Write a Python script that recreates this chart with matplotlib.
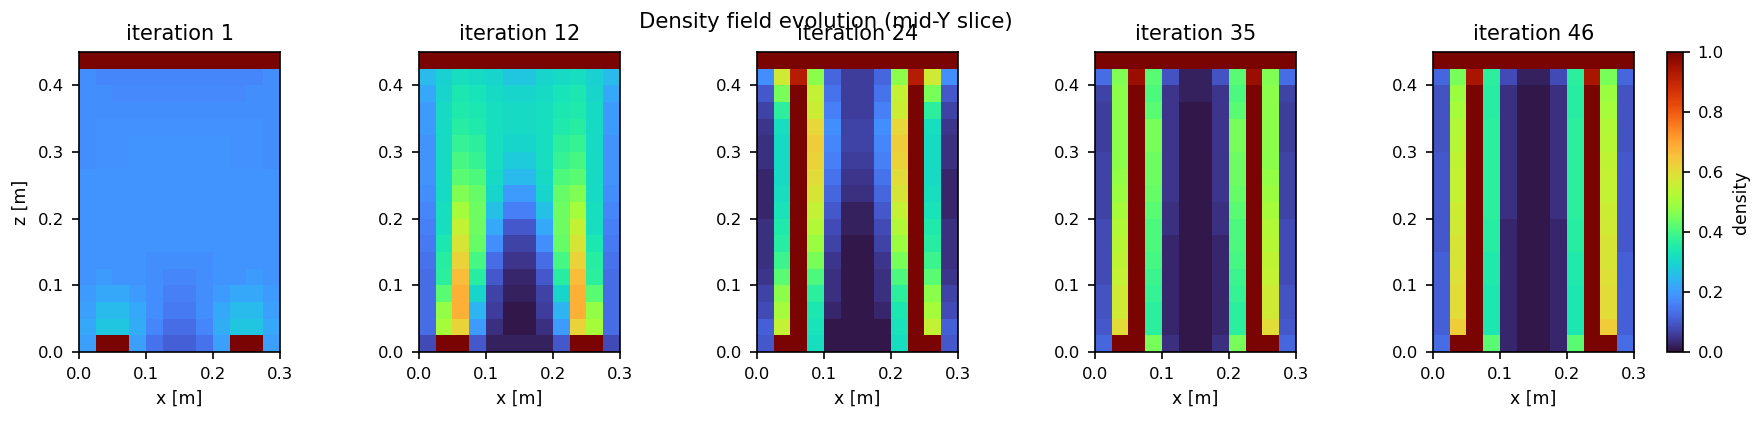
import numpy as np
import matplotlib
matplotlib.use("Agg")
import matplotlib.pyplot as plt

# Half-rows (left 6 columns, mirrored) from bottom (z=0) upward; top lid row is solid 1.0
iterations = [1, 12, 24, 35, 46]

it1_half = [
    [0.21, 1.00, 1.00, 0.21, 0.14, 0.11],
    [0.22, 0.27, 0.27, 0.23, 0.17, 0.13],
    [0.21, 0.25, 0.25, 0.22, 0.18, 0.15],
    [0.20, 0.22, 0.22, 0.20, 0.18, 0.16],
    [0.19, 0.20, 0.19, 0.19, 0.18, 0.17],
    [0.19, 0.19, 0.19, 0.19, 0.18, 0.18],
    [0.19, 0.19, 0.19, 0.19, 0.19, 0.19],
    [0.19, 0.19, 0.19, 0.19, 0.19, 0.19],
    [0.19, 0.19, 0.19, 0.19, 0.19, 0.19],
    [0.19, 0.19, 0.19, 0.19, 0.19, 0.19],
    [0.19, 0.19, 0.19, 0.19, 0.19, 0.19],
    [0.18, 0.185, 0.185, 0.19, 0.19, 0.19],
    [0.18, 0.185, 0.185, 0.19, 0.19, 0.19],
    [0.18, 0.185, 0.185, 0.185, 0.185, 0.185],
    [0.18, 0.18, 0.18, 0.18, 0.18, 0.18],
    [0.18, 0.18, 0.175, 0.175, 0.175, 0.175],
    [0.18, 0.17, 0.17, 0.17, 0.17, 0.17],
]

it12_half = [
    [0.08, 1.00, 1.00, 0.10, 0.02, 0.02],
    [0.13, 0.50, 0.62, 0.20, 0.04, 0.01],
    [0.13, 0.48, 0.68, 0.24, 0.06, 0.01],
    [0.13, 0.42, 0.68, 0.30, 0.07, 0.02],
    [0.13, 0.37, 0.66, 0.36, 0.10, 0.03],
    [0.14, 0.36, 0.62, 0.40, 0.13, 0.05],
    [0.15, 0.34, 0.58, 0.43, 0.18, 0.07],
    [0.16, 0.32, 0.55, 0.44, 0.22, 0.10],
    [0.17, 0.32, 0.50, 0.44, 0.26, 0.16],
    [0.18, 0.31, 0.46, 0.43, 0.30, 0.20],
    [0.19, 0.31, 0.42, 0.41, 0.31, 0.25],
    [0.19, 0.31, 0.40, 0.38, 0.32, 0.28],
    [0.19, 0.31, 0.38, 0.37, 0.32, 0.30],
    [0.20, 0.31, 0.36, 0.35, 0.32, 0.31],
    [0.20, 0.31, 0.35, 0.34, 0.32, 0.31],
    [0.22, 0.30, 0.34, 0.33, 0.31, 0.30],
    [0.25, 0.29, 0.32, 0.31, 0.30, 0.27],
]

it24_half = [
    [0.10, 1.00, 1.00, 0.32, 0.01, 0.01],
    [0.11, 0.55, 1.00, 0.33, 0.01, 0.01],
    [0.08, 0.50, 1.00, 0.34, 0.03, 0.01],
    [0.07, 0.47, 1.00, 0.37, 0.04, 0.01],
    [0.05, 0.42, 1.00, 0.41, 0.04, 0.01],
    [0.04, 0.39, 1.00, 0.45, 0.05, 0.01],
    [0.04, 0.36, 1.00, 0.49, 0.07, 0.01],
    [0.04, 0.35, 1.00, 0.52, 0.08, 0.02],
    [0.03, 0.33, 1.00, 0.55, 0.10, 0.02],
    [0.03, 0.32, 1.00, 0.58, 0.12, 0.04],
    [0.03, 0.31, 1.00, 0.60, 0.14, 0.05],
    [0.04, 0.31, 1.00, 0.62, 0.16, 0.06],
    [0.04, 0.31, 1.00, 0.63, 0.17, 0.07],
    [0.05, 0.32, 1.00, 0.61, 0.18, 0.07],
    [0.07, 0.37, 1.00, 0.56, 0.16, 0.06],
    [0.10, 0.45, 1.00, 0.55, 0.14, 0.06],
    [0.18, 0.57, 0.92, 0.47, 0.12, 0.06],
]

it35_half = [
    [0.12, 1.00, 1.00, 0.45, 0.04, 0.01],
    [0.10, 0.60, 1.00, 0.37, 0.03, 0.01],
    [0.09, 0.57, 1.00, 0.37, 0.03, 0.01],
    [0.09, 0.57, 1.00, 0.38, 0.03, 0.01],
    [0.08, 0.55, 1.00, 0.39, 0.03, 0.01],
    [0.08, 0.54, 1.00, 0.40, 0.03, 0.01],
    [0.08, 0.53, 1.00, 0.41, 0.03, 0.01],
    [0.08, 0.52, 1.00, 0.41, 0.04, 0.01],
    [0.07, 0.50, 1.00, 0.42, 0.04, 0.01],
    [0.07, 0.49, 1.00, 0.43, 0.05, 0.01],
    [0.07, 0.48, 1.00, 0.44, 0.05, 0.01],
    [0.07, 0.47, 1.00, 0.44, 0.05, 0.01],
    [0.06, 0.47, 1.00, 0.45, 0.05, 0.01],
    [0.06, 0.47, 1.00, 0.45, 0.05, 0.01],
    [0.06, 0.47, 1.00, 0.42, 0.05, 0.01],
    [0.07, 0.47, 1.00, 0.41, 0.05, 0.02],
    [0.13, 0.46, 0.96, 0.42, 0.09, 0.02],
]

it46_half = [
    [0.13, 1.00, 1.00, 0.42, 0.03, 0.01],
    [0.11, 0.63, 1.00, 0.34, 0.03, 0.01],
    [0.11, 0.60, 1.00, 0.34, 0.03, 0.01],
    [0.11, 0.60, 1.00, 0.34, 0.03, 0.01],
    [0.11, 0.59, 1.00, 0.35, 0.03, 0.01],
    [0.11, 0.58, 1.00, 0.35, 0.03, 0.01],
    [0.10, 0.58, 1.00, 0.36, 0.03, 0.01],
    [0.10, 0.57, 1.00, 0.36, 0.03, 0.01],
    [0.10, 0.56, 1.00, 0.37, 0.04, 0.01],
    [0.10, 0.55, 1.00, 0.37, 0.04, 0.01],
    [0.10, 0.55, 1.00, 0.37, 0.04, 0.01],
    [0.10, 0.54, 1.00, 0.37, 0.04, 0.01],
    [0.09, 0.53, 1.00, 0.37, 0.04, 0.01],
    [0.09, 0.52, 1.00, 0.37, 0.04, 0.01],
    [0.09, 0.50, 1.00, 0.36, 0.04, 0.01],
    [0.09, 0.49, 1.00, 0.36, 0.04, 0.01],
    [0.12, 0.45, 0.94, 0.37, 0.08, 0.02],
]

halves = [it1_half, it12_half, it24_half, it35_half, it46_half]
x_ticks = [0.0, 0.1, 0.2, 0.3]
z_ticks = [0.0, 0.1, 0.2, 0.3, 0.4]
cb_ticks = [0.0, 0.2, 0.4, 0.6, 0.8, 1.0]
Lx, Lz = 0.3, 0.45


def full_field(half):
    h = np.array(half)
    body = np.hstack([h, h[:, ::-1]])
    lid = np.ones((1, body.shape[1]))
    return np.vstack([body, lid])


plt.rcParams["xtick.labelsize"] = 7.9
plt.rcParams["ytick.labelsize"] = 7.9
plt.rcParams["axes.labelsize"] = 8.3

DPI = 150
W, H = 1761, 421
fig = plt.figure(figsize=(W / DPI, H / DPI), dpi=DPI)

lefts = [79, 419, 757, 1095, 1433]
ax_w, ax_top, ax_bot = 201, 52, 352
im = None
for i, (it, half) in enumerate(zip(iterations, halves)):
    ax = fig.add_axes([lefts[i] / W, 1 - ax_bot / H, ax_w / W, (ax_bot - ax_top) / H])
    im = ax.imshow(full_field(half), origin="lower", extent=[0, Lx, 0, Lz],
                   cmap="turbo", vmin=0, vmax=1, aspect="auto", interpolation="nearest")
    ax.set_xticks(x_ticks)
    ax.set_yticks(z_ticks)
    ax.set_xlabel("x [m]")
    if i == 0:
        ax.set_ylabel("z [m]")
    ax.set_title(f"iteration {it}", fontsize=10)

cax = fig.add_axes([1667 / W, 1 - 352 / H, 16 / W, 300 / H])
cb = fig.colorbar(im, cax=cax)
cb.set_label("density", fontsize=8.3)
cb.set_ticks(cb_ticks)
cb.ax.tick_params(labelsize=7.9)

fig.text(826 / W, 1 - 22 / H, "Density field evolution (mid-Y slice)", ha="center", va="center", fontsize=10.2)

fig.savefig("out.png", dpi=DPI)
